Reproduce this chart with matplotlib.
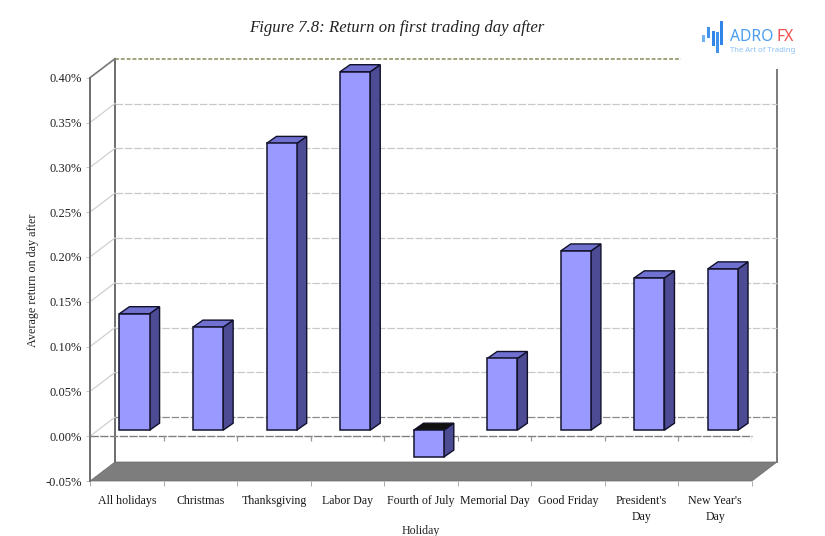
import matplotlib
matplotlib.use('Agg')
import matplotlib.pyplot as plt
from matplotlib.patches import Polygon, Rectangle
from matplotlib.transforms import Affine2D

plt.rcParams['font.family'] = ['Liberation Serif', 'DejaVu Serif']

holidays = ['All holidays', 'Christmas', 'Thanksgiving', 'Labor Day', 'Fourth of July',
            'Memorial Day', 'Good Friday', "President's\nDay", "New Year's\nDay"]
returns = [0.13, 0.115, 0.32, 0.40, -0.03, 0.08, 0.20, 0.17, 0.18]
ytick_vals = [-0.05, 0.00, 0.05, 0.10, 0.15, 0.20, 0.25, 0.30, 0.35, 0.40]
ytick_labels = ['-0.05%', '0.00%', '0.05%', '0.10%', '0.15%', '0.20%', '0.25%', '0.30%', '0.35%', '0.40%']

W, H = 825, 536
fig = plt.figure(figsize=(W/100, H/100), dpi=100)
ax = fig.add_axes([90/W, (H-481)/H, 662/W, 403.3/H])
ax.set_xlim(0, 9)
ax.set_ylim(-0.05, 0.40)

# depth of the fake 3d box and of the bars, in data units
wall_dx = 25/73.55
wall_dy = 19/896.0
bar_off = 0.105
bar_lift = 0.0067
bar_w = 0.41
side_dx = 0.136
side_dy = 0.0078

# floor, walls
ax.add_patch(Polygon([(0, -0.05), (9, -0.05), (9+wall_dx, -0.05+wall_dy), (wall_dx, -0.05+wall_dy)],
                     closed=True, fc='#7d7d7d', ec='#6a6a6a', lw=0.5, clip_on=False, zorder=1))
ax.plot([wall_dx, wall_dx], [-0.05+wall_dy, 0.40+wall_dy], color='#6e6e6e', lw=1.4, clip_on=False, zorder=2)
ax.plot([9+wall_dx, 9+wall_dx], [-0.05+wall_dy, 0.40+wall_dy], color='#7a7a7a', lw=1.4, clip_on=False, zorder=2)
ax.plot([wall_dx, 9+wall_dx], [0.40+wall_dy, 0.40+wall_dy], color='#a3a37c', lw=1.4, ls=(0, (2, 1)), clip_on=False, zorder=2)
ax.plot([0, wall_dx], [0.40, 0.40+wall_dy], color='#777777', lw=1.2, clip_on=False, zorder=2)

# gridlines on back wall + side wall
for v in ytick_vals[1:-1]:
    dark = v == 0
    ax.plot([wall_dx, 9+wall_dx], [v+wall_dy, v+wall_dy], color='#8a8a8a' if dark else '#c8c8c8',
            lw=0.9, ls=(0, (6, 1.5)), clip_on=False, zorder=2)
    ax.plot([0, wall_dx], [v, v+wall_dy], color='#d0d0d0', lw=0.9, clip_on=False, zorder=2)

# zero line on the front plane with its ticks
ax.plot([0, 9], [0, 0], color='#808080', lw=1.0, ls=(0, (6, 1)), clip_on=False, zorder=2)
ax.vlines(range(1, 10), -0.0055, 0, color='#999999', lw=0.9, zorder=2)

# bars
pos = [i + 0.5 + bar_off for i in range(len(returns))]
ax.bar(pos, returns, width=bar_w, bottom=bar_lift, color='#9999ff', edgecolor='#14142e', lw=1.1,
       zorder=5, clip_on=False)
for x, v in zip(pos, returns):
    l, r = x - bar_w/2, x + bar_w/2
    b, t = bar_lift + min(v, 0), bar_lift + max(v, 0)
    ax.add_patch(Polygon([(r, b), (r+side_dx, b+side_dy), (r+side_dx, t+side_dy), (r, t)], closed=True,
                         fc='#4d4b94', ec='#10102a', lw=1.0, zorder=4, clip_on=False))
    ax.add_patch(Polygon([(l, t), (l+side_dx, t+side_dy), (r+side_dx, t+side_dy), (r, t)], closed=True,
                         fc='#111111' if v < 0 else '#7070d0', ec='#10102a', lw=1.0, zorder=4, clip_on=False))

# axes
for s in ['top', 'right', 'bottom']:
    ax.spines[s].set_visible(False)
ax.spines['left'].set_color('#6e6e6e')
ax.spines['left'].set_linewidth(1.4)
ax.patch.set_visible(False)
ax.set_yticks(ytick_vals)
ax.set_yticklabels(ytick_labels, fontsize=9, color='#222222')
ax.tick_params(axis='y', length=3, width=0.6, color='#bbbbbb', pad=3)
ax.set_xticks(range(10))
ax.set_xticklabels([])
ax.tick_params(axis='x', which='major', length=3.6, width=0.7, color='#aaaaaa')
ax.set_xticks([i + 0.5 for i in range(9)], minor=True)
ax.set_xticklabels(holidays, minor=True, fontsize=8.6, color='#1a1a1a', linespacing=1.45)
ax.tick_params(axis='x', which='minor', length=0, pad=10)

# pixel coords, origin at top left
px = Affine2D().scale(1, -1).translate(0, H)

fig.text(397, 28, 'Figure 7.8: Return on first trading day after', transform=px, fontsize=12.1, style='italic',
         ha='center', va='center', color='#222222')
fig.text(33, 280, 'Average return on day after', transform=px, fontsize=8.7, rotation=90,
         ha='center', va='center', color='#222222')
fig.text(421, 531, 'Holiday', transform=px, fontsize=8.6, ha='center', va='center', color='#222222')

# watermark box and logo
fig.add_artist(Rectangle((681, 0), 144, 69, transform=px, fc='white', ec='none', zorder=10))
logo_x = [703.5, 708, 713, 717, 721.5]
logo_top = [35, 27, 31, 32, 21]
logo_bot = [42, 38, 46, 53, 45]
logo_col = ['#6fb3f2', '#3f93ec', '#2f86e8', '#3f93ec', '#2f86e8']
for x, t, b, c in zip(logo_x, logo_top, logo_bot, logo_col):
    fig.add_artist(Rectangle((x-1.5, t), 3, b-t, transform=px, fc=c, ec='none', zorder=11))
fig.text(730, 37, 'ADRO', transform=px, fontsize=11.3, family='Noto Sans', color='#4a9df0', ha='left', va='center', zorder=12)
fig.text(777, 37, 'FX', transform=px, fontsize=11.3, family='Noto Sans', weight='bold', color='#f04e4e', ha='left', va='center', zorder=12)
fig.text(730, 50, 'The Art of Trading', transform=px, fontsize=5.5, family='Noto Sans', color='#8cc0f5', ha='left', va='center', zorder=12)

fig.savefig('out.png', dpi=100)
